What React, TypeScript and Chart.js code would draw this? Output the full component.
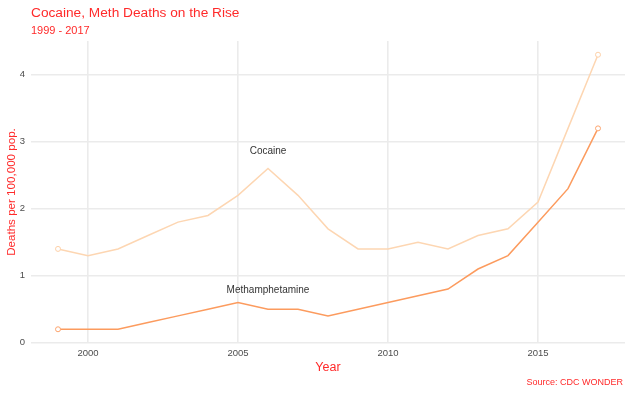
import React, { useEffect, useRef } from "react";
import { Chart, registerables } from "chart.js";

Chart.register(...registerables);

const years = [1999, 2000, 2001, 2002, 2003, 2004, 2005, 2006, 2007, 2008, 2009, 2010, 2011, 2012, 2013, 2014, 2015, 2016, 2017];
const cocaine = [1.4, 1.3, 1.4, 1.6, 1.8, 1.9, 2.2, 2.6, 2.2, 1.7, 1.4, 1.4, 1.5, 1.4, 1.6, 1.7, 2.1, 3.2, 4.3];
const meth = [0.2, 0.2, 0.2, 0.3, 0.4, 0.5, 0.6, 0.5, 0.5, 0.4, 0.5, 0.6, 0.7, 0.8, 1.1, 1.3, 1.8, 2.3, 3.2];
const xTicks = [2000, 2005, 2010, 2015];
const yTicks = [0, 1, 2, 3, 4];
const labels = [
  { text: "Cocaine", year: 2006, value: 2.86 },
  { text: "Methamphetamine", year: 2006, value: 0.78 },
];

const FONT = "'Liberation Sans', Arial, Helvetica, sans-serif";
const RED = "#ff2a2a";

const textPlugin = {
  id: "texts",
  afterDraw(chart: any) {
    const ctx = chart.ctx;
    const xs = chart.scales.x;
    const ys = chart.scales.y;
    ctx.save();
    ctx.fillStyle = RED;
    ctx.textBaseline = "alphabetic";
    ctx.textAlign = "left";
    ctx.font = `13.7px ${FONT}`;
    ctx.fillText("Cocaine, Meth Deaths on the Rise", 31, 17);
    ctx.font = `11px ${FONT}`;
    ctx.fillText("1999 - 2017", 31, 34);
    ctx.textAlign = "center";
    ctx.font = `12.5px ${FONT}`;
    ctx.fillText("Year", (xs.left + xs.right) / 2, 371);
    ctx.textAlign = "right";
    ctx.font = `9px ${FONT}`;
    ctx.fillText("Source: CDC WONDER", 623, 385);
    ctx.save();
    ctx.translate(14.5, (ys.top + ys.bottom) / 2);
    ctx.rotate(-Math.PI / 2);
    ctx.textAlign = "center";
    ctx.font = `11.6px ${FONT}`;
    ctx.fillText("Deaths per 100,000 pop.", 0, 0);
    ctx.restore();
    ctx.fillStyle = "#333333";
    ctx.textAlign = "center";
    ctx.textBaseline = "middle";
    ctx.font = `10px ${FONT}`;
    for (const l of labels) {
      ctx.fillText(l.text, xs.getPixelForValue(l.year), ys.getPixelForValue(l.value));
    }
    ctx.restore();
  },
};

export default function App() {
  const ref = useRef<HTMLCanvasElement>(null);
  useEffect(() => {
    const ends = (n: number) => years.map((_, i) => (i === 0 || i === n - 1 ? 2.5 : 0));
    const chart = new Chart(ref.current!, {
      type: "line",
      data: {
        datasets: [
          {
            label: "Cocaine",
            data: years.map((y, i) => ({ x: y, y: cocaine[i] })),
            borderColor: "#fdd6b2",
            backgroundColor: "#ffffff",
            borderWidth: 1.5,
            pointRadius: ends(years.length),
            pointBorderWidth: 1,
            pointBorderColor: "#fdd0a8",
            tension: 0,
          },
          {
            label: "Methamphetamine",
            data: years.map((y, i) => ({ x: y, y: meth[i] })),
            borderColor: "#fc9b5e",
            backgroundColor: "#ffffff",
            borderWidth: 1.5,
            pointRadius: ends(years.length),
            pointBorderWidth: 1,
            pointBorderColor: "#fca46e",
            tension: 0,
          },
        ],
      },
      options: {
        animation: false,
        responsive: false,
        layout: { padding: { top: 41, right: 5, left: 0, bottom: 0 } },
        plugins: { legend: { display: false }, tooltip: { enabled: false }, title: { display: false } },
        scales: {
          x: {
            type: "linear",
            min: 1998.1,
            max: 2017.9,
            afterFit: (s: any) => { s.height = 51; },
            afterBuildTicks: (s: any) => { s.ticks = xTicks.map((v) => ({ value: v })); },
            border: { display: false },
            grid: { color: "#ebebeb", lineWidth: 1.6, drawTicks: false },
            ticks: { color: "#4d4d4d", font: { family: FONT, size: 9.5 }, padding: 5, callback: (v: any) => String(v) },
          },
          y: {
            type: "linear",
            min: -0.005,
            max: 4.505,
            afterFit: (s: any) => { s.width = 31; },
            afterBuildTicks: (s: any) => { s.ticks = yTicks.map((v) => ({ value: v })); },
            border: { display: false },
            grid: { color: "#ebebeb", lineWidth: 1.6, drawTicks: false },
            ticks: { color: "#4d4d4d", font: { family: FONT, size: 9.5 }, padding: 6, callback: (v: any) => String(v) },
          },
        },
      },
      plugins: [textPlugin],
    });
    return () => chart.destroy();
  }, []);
  return (
    <div style={{ position: "fixed", left: 0, top: 0, width: 630, height: 394, background: "#fff" }}>
      <canvas ref={ref} width={630} height={394} style={{ width: 630, height: 394 }} />
    </div>
  );
}
